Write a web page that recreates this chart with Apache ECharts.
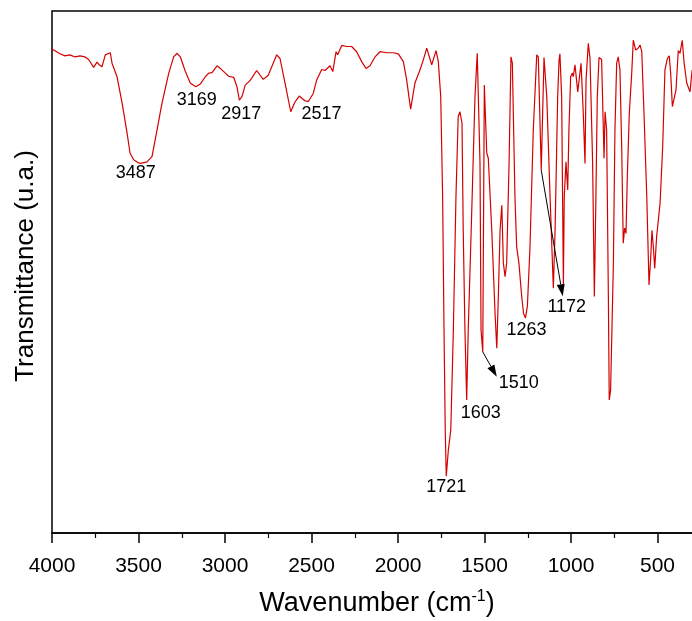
<!DOCTYPE html>
<html>
<head>
<meta charset="utf-8">
<script src="https://cdn.jsdelivr.net/npm/echarts@6/dist/echarts.min.js"></script>
<style>
  html, body { margin: 0; padding: 0; background: #ffffff; }
  #chart { width: 692px; height: 621px; }
</style>
</head>
<body>
<div id="chart"></div>
<script>
// FTIR spectrum: wavenumber (cm^-1) and transmittance (arbitrary units)
const wavenumber = [
  4000, 3954, 3925, 3896, 3867, 3838, 3809, 3788, 3759, 3740,
  3727, 3711, 3692, 3663, 3653, 3624, 3595, 3566, 3549, 3528,
  3499, 3487, 3451, 3422, 3393, 3364, 3325, 3297, 3277, 3258,
  3229, 3201, 3169, 3143, 3114, 3094, 3075, 3046, 3027, 2998,
  2979, 2950, 2931, 2917, 2902, 2883, 2854, 2817, 2779, 2750,
  2701, 2682, 2653, 2620, 2595, 2571, 2538, 2517, 2490, 2470,
  2441, 2422, 2393, 2377, 2358, 2349, 2325, 2297, 2268, 2239,
  2210, 2185, 2162, 2133, 2104, 2065, 2027, 1998, 1969, 1950,
  1927, 1902, 1873, 1854, 1834, 1805, 1780, 1767, 1753, 1742,
  1734, 1727, 1721, 1709, 1695, 1680, 1665, 1652, 1642, 1630,
  1623, 1613, 1603, 1594, 1574, 1555, 1542, 1534, 1526, 1520,
  1510, 1501, 1487, 1478, 1458, 1439, 1429, 1420, 1410, 1400,
  1391, 1381, 1372, 1358, 1347, 1339, 1324, 1314, 1301, 1285,
  1274, 1263, 1252, 1237, 1218, 1198, 1189, 1172, 1156, 1140,
  1121, 1102, 1092, 1077, 1069, 1064, 1054, 1044, 1039, 1029,
  1019, 1012, 1002, 992, 987, 977, 961, 942, 929, 919,
  913, 900, 890, 884, 875, 865, 856, 848, 838, 823,
  813, 809, 803, 794, 784, 779, 771, 755, 746, 736,
  727, 717, 707, 698, 690, 682, 675, 663, 649, 640,
  626, 611, 601, 591, 578, 562, 549, 539, 532, 524,
  516, 505, 485, 470, 457, 443, 432, 424, 414, 405,
  393, 380, 370, 357, 346, 331, 322, 312, 300
];

const transmittance = [
  92.7, 91.8, 91.4, 91.6, 91.2, 91.4, 91.2, 90.7, 89.2, 90.2,
  89.7, 89.3, 91.6, 92.0, 90.0, 87.4, 82.4, 76.6, 72.8, 71.5,
  70.9, 70.8, 71.1, 72.1, 77.2, 82.4, 88.1, 91.2, 91.9, 91.2,
  88.4, 86.2, 85.5, 86.0, 87.4, 88.1, 88.2, 89.5, 89.0, 88.1,
  87.5, 87.3, 85.5, 82.9, 83.6, 85.8, 86.7, 88.6, 86.9, 87.7,
  91.6, 90.9, 86.2, 80.7, 82.6, 83.7, 82.8, 82.7, 84.2, 86.8,
  88.8, 88.6, 89.5, 88.4, 92.2, 91.6, 93.4, 93.2, 93.2, 92.2,
  90.3, 89.0, 89.5, 91.2, 92.2, 92.0, 92.0, 91.8, 90.3, 86.8,
  81.2, 86.2, 88.7, 90.6, 92.9, 89.7, 92.4, 90.3, 83.6, 64.4,
  38.9, 19.7, 10.9, 15.9, 19.7, 38.9, 64.4, 79.8, 80.7, 78.5,
  58.0, 38.9, 25.5, 38.9, 61.3, 83.6, 91.9, 91.6, 70.9, 38.9,
  34.7, 85.8, 72.8, 71.8, 58.0, 42.1, 35.4, 45.3, 58.0, 62.8,
  51.7, 49.1, 51.7, 70.9, 91.2, 90.0, 64.4, 54.8, 51.7, 45.3,
  42.0, 41.2, 43.5, 54.8, 77.2, 91.6, 91.2, 69.5, 91.1, 83.6,
  64.4, 46.9, 58.0, 83.6, 90.6, 91.8, 83.6, 47.5, 64.4, 71.1,
  65.7, 77.2, 87.4, 88.1, 87.4, 89.7, 84.5, 90.0, 80.4, 70.8,
  86.8, 93.8, 90.9, 90.6, 70.9, 45.3, 64.4, 83.6, 91.1, 90.7,
  77.2, 71.8, 80.7, 77.2, 45.3, 25.5, 27.4, 51.7, 77.2, 90.0,
  91.2, 88.7, 74.0, 55.5, 58.4, 57.4, 67.6, 80.4, 88.1, 94.4,
  92.5, 92.9, 93.5, 92.2, 80.4, 64.4, 47.5, 52.9, 58.0, 54.8,
  50.7, 56.8, 63.2, 74.0, 88.7, 90.9, 91.4, 88.1, 81.7, 81.7,
  84.9, 92.4, 91.9, 94.4, 90.0, 86.2, 86.5, 84.5, 88.7
];

// Assigned band positions (cm^-1)
const peakWavenumbers = [3487, 3169, 2917, 2517, 1721, 1603, 1510, 1263, 1172];

// Labelled ticks on the wavenumber axis
const xTickLabels = [4000, 3500, 3000, 2500, 2000, 1500, 1000, 500];

const FONT = '"Liberation Sans", Arial, Helvetica, sans-serif';

// Pixel offsets of each band label from its point on the curve
const labelOffset = {
  3487: [-5, 10], 3169: [1, 13], 2917: [2, 14], 2517: [13, 13],
  1721: [0, 11], 1603: [14, 13], 1510: [36, 31], 1263: [1, 12], 1172: [25.5, 136.5]
};
// Bands whose label is linked to the curve by an arrow (tip offset in px)
const arrowTip = { 1510: [14, 25], 1172: [21.5, 126] };

const chart = echarts.init(document.getElementById('chart'), null, { renderer: 'canvas' });

const spectrum = wavenumber.map((w, i) => [w, transmittance[i]]);

chart.setOption({
  animation: false,
  backgroundColor: '#ffffff',
  grid: {
    left: 52, top: 11, width: 692, height: 522,
    outerBoundsMode: 'none', containLabel: false,
    show: true, borderColor: '#000', borderWidth: 1.5, backgroundColor: 'transparent'
  },
  xAxis: {
    type: 'value', inverse: true, min: 0, max: 4000, interval: 500,
    axisLine: { show: true, onZero: false, lineStyle: { color: '#000', width: 1.5 } },
    axisTick: { show: true, inside: false, length: 10, lineStyle: { color: '#000', width: 1.5 } },
    minorTick: { show: true, splitNumber: 2, length: 5, lineStyle: { color: '#000', width: 1.2 } },
    axisLabel: {
      margin: 23, fontSize: 21, color: '#000', fontFamily: FONT,
      formatter: v => (xTickLabels.indexOf(v) >= 0 ? String(v) : '')
    },
    splitLine: { show: false }
  },
  yAxis: {
    type: 'value', min: 0, max: 100,
    axisLine: { show: true, lineStyle: { color: '#000', width: 1.5 } },
    axisTick: { show: false },
    axisLabel: { show: false },
    splitLine: { show: false }
  },
  series: [{
    type: 'line',
    data: spectrum,
    symbol: 'none',
    showSymbol: false,
    silent: true,
    lineStyle: { color: '#d40000', width: 1.2 }
  }]
});

// Band labels, arrows and axis titles placed via the chart's own coordinate system
const graphics = [];
peakWavenumbers.forEach(w => {
  const i = wavenumber.indexOf(w);
  const p = chart.convertToPixel({ gridIndex: 0 }, [w, transmittance[i]]);
  const off = labelOffset[w];
  graphics.push({
    type: 'text', x: p[0] + off[0], y: p[1] + off[1], z: 10,
    style: {
      text: String(w), fill: '#000', fontSize: 18, fontFamily: FONT,
      align: 'center', verticalAlign: 'middle', textAlign: 'center', textVerticalAlign: 'middle'
    }
  });
  if (arrowTip[w]) {
    const tx = p[0] + arrowTip[w][0], ty = p[1] + arrowTip[w][1];
    const dx = tx - p[0], dy = ty - p[1];
    const len = Math.sqrt(dx * dx + dy * dy);
    const ux = dx / len, uy = dy / len;
    const headLen = 12, headHalf = 4;
    const bx = tx - ux * headLen, by = ty - uy * headLen;
    graphics.push({
      type: 'line', z: 10,
      shape: { x1: p[0], y1: p[1], x2: bx, y2: by },
      style: { stroke: '#000', lineWidth: 1 }
    });
    graphics.push({
      type: 'polygon', z: 10,
      shape: { points: [[tx, ty], [bx - uy * headHalf, by + ux * headHalf], [bx + uy * headHalf, by - ux * headHalf]] },
      style: { fill: '#000' }
    });
  }
});

graphics.push({
  type: 'text', x: 377, y: 604, z: 10,
  style: {
    text: '{a|Wavenumber (cm}{s|-1}{a|)}',
    align: 'center', verticalAlign: 'middle', textAlign: 'center', textVerticalAlign: 'middle',
    rich: {
      a: { fontSize: 27, fontFamily: FONT, fill: '#000', lineHeight: 30 },
      s: { fontSize: 16, fontFamily: FONT, fill: '#000', verticalAlign: 'top', lineHeight: 16 }
    }
  }
});
graphics.push({
  type: 'text', x: 26, y: 266, rotation: Math.PI / 2, z: 10,
  style: {
    text: 'Transmittance (u.a.)', fill: '#000', fontSize: 26, fontFamily: FONT,
    align: 'center', verticalAlign: 'middle', textAlign: 'center', textVerticalAlign: 'middle'
  }
});

chart.setOption({ graphic: { elements: graphics } });
</script>
</body>
</html>
